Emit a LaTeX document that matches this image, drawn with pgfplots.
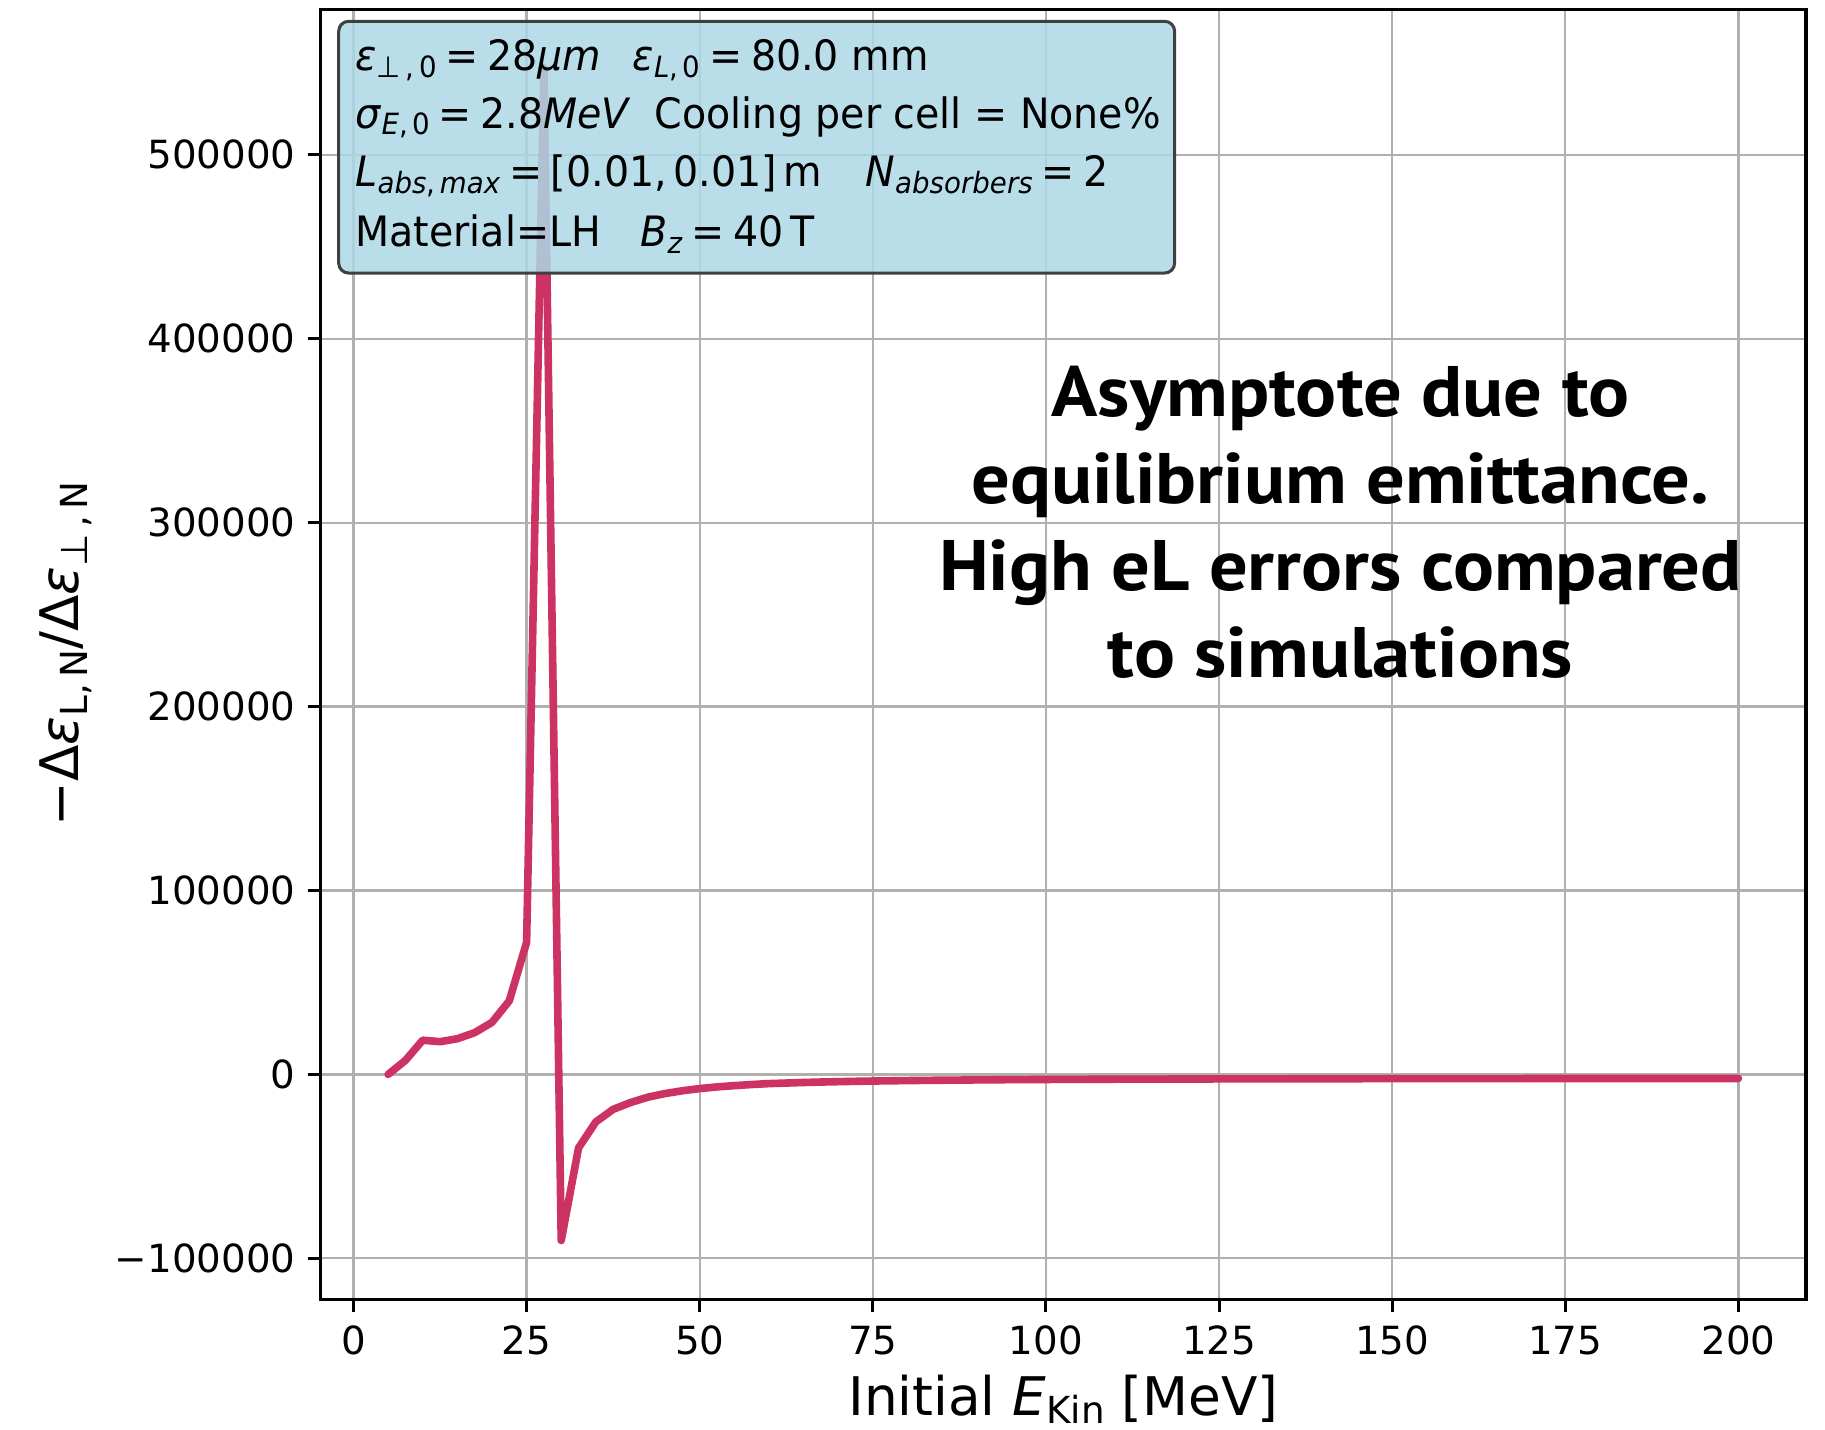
\documentclass[border=0pt]{standalone}
\usepackage{pgfplots}
\pgfplotsset{compat=1.18}
\usepackage{fontspec}
\setmainfont{DejaVu Sans}
\newfontfamily\annfont{PT Sans}
\usepackage{graphicx}
\definecolor{linecol}{RGB}{204,51,99}
\definecolor{boxblue}{RGB}{173,216,230}
\definecolor{gridgray}{RGB}{176,176,176}
\newcommand\sub[1]{\raisebox{-0.16em}{\scalebox{0.7}{#1}}}
\newcommand\eq{\hspace{0.22em}=\hspace{0.22em}}
\newcommand\bx[1]{\scalebox{0.945}[1]{#1}}
\newcommand\an[1]{\scalebox{1.07}[1]{#1}}
\begin{document}
\begin{tikzpicture}
\path[use as bounding box] (-84.3pt,-34.2pt) rectangle (395.6pt,341.6pt);
\begin{axis}[
  at={(0pt,0pt)}, anchor=south west,
  scale only axis, width=390.6pt, height=339.2pt,
  xmin=-4.75, xmax=209.75, ymin=-122160, ymax=579240,
  xtick={0,25,50,75,100,125,150,175,200},
  xticklabels={0,25,50,75,100,125,150,175,200},
  ytick={-100000,0,100000,200000,300000,400000,500000},
  yticklabels={−100000,0,100000,200000,300000,400000,500000},
  scaled y ticks=false, scaled x ticks=false,
  grid=major, major grid style={color=gridgray, line width=0.6pt},
  axis line style={line width=0.8pt},
  tick align=outside, major tick length=3.3pt,
  tick style={line width=0.8pt, black},
  tick pos=left,
  ticklabel style={font=\fontsize{10.2}{12}\selectfont},
  xticklabel style={anchor=base, yshift=-11.4pt, inner sep=0pt},
  yticklabel style={anchor=east, xshift=-3.1pt, inner sep=0pt},
  label style={font=\fontsize{14}{16}\selectfont},
  xlabel={Initial \textit{E}\sub{Kin} [MeV]},
  xlabel style={at={(axis description cs:0.5,-0.0900)}, anchor=base, inner sep=0pt},
  ylabel={−Δ\textit{ε}\sub{L,\,N}/Δ\textit{ε}\sub{⊥\,,\,N}},
  ylabel style={at={(axis description cs:-0.1628,0.5)}, anchor=base, inner sep=0pt},
]
\addplot[linecol, line width=2.0pt, line join=round, line cap=round] coordinates {
(5,0) (7.5,7600) (10,18600) (12.5,17800) (15,19400) (17.5,22700) (20,28300)
(22.5,40000) (25,71800) (27.5,547400) (30,-90300) (32.5,-40000) (35,-25800)
(37.5,-19000) (40,-15300) (42.5,-12400) (45,-10400) (47.5,-8900) (50,-7700)
(52.5,-6800) (55,-6100) (57.5,-5500) (60,-5000) (62.5,-4700) (65,-4400)
(67.5,-4150) (70,-3950) (72.5,-3750) (75,-3600) (80,-3350) (85,-3150)
(90,-3000) (95,-2850) (100,-2750) (110,-2600) (120,-2500) (130,-2420)
(140,-2360) (150,-2310) (160,-2280) (170,-2250) (180,-2230) (190,-2210) (200,-2200)
};
\end{axis}
% parameter box
\node[anchor=north west, fill=boxblue, fill opacity=0.85, draw=black!75, draw opacity=1,
  line width=0.8pt, rounded corners=2.6pt, minimum width=219.8pt, minimum height=66.2pt,
  inner sep=0pt] at (4.37pt,336.4pt) {};
\begin{scope}[every node/.style={anchor=base west, inner sep=0pt, font=\fontsize{11}{13}\selectfont}]
\node at (9.0pt,323.1pt) {\bx{\textit{ε}\sub{⊥\,,\,0}\eq 28\textit{μm}\hspace{0.8em}\textit{ε}\sub{\textit{L},\,0}\eq 80.0 mm}};
\node at (9.0pt,307.9pt) {\bx{\textit{σ}\sub{\textit{E},\,0}\eq 2.8\textit{MeV}\hspace{0.6em}Cooling per cell = None\%}};
\node at (9.0pt,292.6pt) {\bx{\textit{L}\sub{\textit{abs},\,\textit{max}}\eq[0.01,\,0.01]\,m\hspace{1.1em}\textit{N}\sub{\textit{absorbers}}\eq 2}};
\node at (9.0pt,276.8pt) {\bx{Material=LH\hspace{1.0em}\textit{B}\sub{\textit{z}}\eq 40\,T}};
\end{scope}
% annotation
\begin{scope}[every node/.style={anchor=base, inner sep=0pt, font=\annfont\bfseries\fontsize{18.8}{20}\selectfont}]
\node at (268.2pt,232.0pt) {\an{Asymptote due to}};
\node at (268.2pt,209.3pt) {\an{equilibrium emittance.}};
\node at (268.2pt,186.3pt) {\an{High eL errors compared}};
\node at (268.2pt,163.5pt) {\an{to simulations}};
\end{scope}
\end{tikzpicture}
\end{document}
